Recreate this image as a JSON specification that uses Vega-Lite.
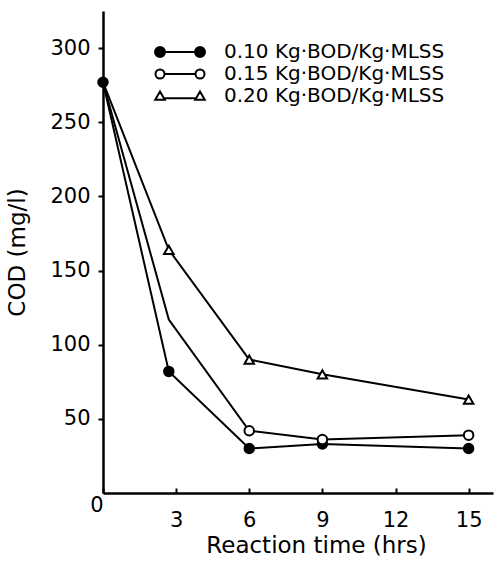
{
  "$schema": "https://vega.github.io/schema/vega-lite/v6.json",
  "width": 390,
  "height": 482,
  "autosize": "none",
  "padding": {"left": 103, "top": 11, "right": 1, "bottom": 73},
  "background": "white",
  "config": {
    "font": "DejaVu Sans",
    "view": {"stroke": null},
    "axis": {"grid": false, "domainColor": "black", "tickColor": "black", "labelColor": "black", "titleColor": "black"}
  },
  "data": {
    "values": [
      {"series": "0.10 Kg·BOD/Kg·MLSS", "time": 0, "cod": 277},
      {"series": "0.10 Kg·BOD/Kg·MLSS", "time": 2.7, "cod": 82},
      {"series": "0.10 Kg·BOD/Kg·MLSS", "time": 6, "cod": 30},
      {"series": "0.10 Kg·BOD/Kg·MLSS", "time": 9, "cod": 33},
      {"series": "0.10 Kg·BOD/Kg·MLSS", "time": 15, "cod": 30},
      {"series": "0.15 Kg·BOD/Kg·MLSS", "time": 0, "cod": 277},
      {"series": "0.15 Kg·BOD/Kg·MLSS", "time": 2.7, "cod": 117},
      {"series": "0.15 Kg·BOD/Kg·MLSS", "time": 6, "cod": 42},
      {"series": "0.15 Kg·BOD/Kg·MLSS", "time": 9, "cod": 36},
      {"series": "0.15 Kg·BOD/Kg·MLSS", "time": 15, "cod": 39},
      {"series": "0.20 Kg·BOD/Kg·MLSS", "time": 0, "cod": 277},
      {"series": "0.20 Kg·BOD/Kg·MLSS", "time": 2.7, "cod": 164},
      {"series": "0.20 Kg·BOD/Kg·MLSS", "time": 6, "cod": 90},
      {"series": "0.20 Kg·BOD/Kg·MLSS", "time": 9, "cod": 80},
      {"series": "0.20 Kg·BOD/Kg·MLSS", "time": 15, "cod": 63}
    ]
  },
  "encoding": {
    "x": {
      "field": "time", "type": "quantitative",
      "scale": {"domain": [0, 16], "nice": false, "zero": false},
      "axis": {
        "values": [0, 3, 6, 9, 12, 15],
        "title": "Reaction time (hrs)",
        "titleFontSize": 23, "titleFontWeight": "normal", "titlePadding": 4, "titleX": 213,
        "labelFontSize": 21,
        "labelPadding": {"condition": {"test": "datum.value === 0", "value": 6}, "value": 21},
        "labelAlign": {"condition": {"test": "datum.value === 0", "value": "right"}, "value": "center"},
        "tickSize": -5, "tickWidth": 2, "domainWidth": 2.5
      }
    },
    "y": {
      "field": "cod", "type": "quantitative",
      "scale": {"domain": [0, 325], "nice": false},
      "axis": {
        "values": [50, 100, 150, 200, 250, 300],
        "title": "COD (mg/l)",
        "titleFontSize": 23, "titleFontWeight": "normal", "titlePadding": 20,
        "labelFontSize": 21, "labelPadding": 8,
        "tickSize": 5, "tickWidth": 2, "domainWidth": 2.5
      }
    }
  },
  "layer": [
    {
      "mark": {"type": "line", "color": "black", "strokeWidth": 2},
      "encoding": {"detail": {"field": "series"}}
    },
    {
      "transform": [
        {"filter": "(datum.time > 0 || indexof(datum.series, '0.10') === 0) && !(datum.time === 2.7 && indexof(datum.series, '0.15') === 0)"}
      ],
      "mark": {"type": "point", "filled": false, "stroke": "black", "strokeWidth": 2, "opacity": 1},
      "encoding": {
        "shape": {
          "field": "series", "type": "nominal",
          "scale": {"domain": ["0.10 Kg·BOD/Kg·MLSS", "0.15 Kg·BOD/Kg·MLSS", "0.20 Kg·BOD/Kg·MLSS"], "range": ["circle", "circle", "triangle-up"]},
          "legend": null
        },
        "fill": {
          "field": "series", "type": "nominal",
          "scale": {"domain": ["0.10 Kg·BOD/Kg·MLSS", "0.15 Kg·BOD/Kg·MLSS", "0.20 Kg·BOD/Kg·MLSS"], "range": ["black", "white", "white"]},
          "legend": null
        },
        "size": {"value": 90}
      }
    },
    {
      "mark": {"type": "point", "filled": false, "stroke": "black", "strokeWidth": 2, "opacity": 0},
      "encoding": {
        "shape": {
          "field": "series", "type": "nominal",
          "scale": {
            "domain": ["0.10 Kg·BOD/Kg·MLSS", "0.15 Kg·BOD/Kg·MLSS", "0.20 Kg·BOD/Kg·MLSS"],
            "range": [
              "M-5,0a1,1 0 1,0 2,0a1,1 0 1,0 -2,0ZM-4.6,0a0.6,0.6 0 1,0 1.2,0a0.6,0.6 0 1,0 -1.2,0ZM-4.25,0a0.25,0.25 0 1,0 0.5,0a0.25,0.25 0 1,0 -0.5,0ZM-3,0L3,0M3,0a1,1 0 1,0 2,0a1,1 0 1,0 -2,0ZM3.4,0a0.6,0.6 0 1,0 1.2,0a0.6,0.6 0 1,0 -1.2,0ZM3.75,0a0.25,0.25 0 1,0 0.5,0a0.25,0.25 0 1,0 -0.5,0Z",
              "M-4.9,0a0.9,0.9 0 1,0 1.8,0a0.9,0.9 0 1,0 -1.8,0ZM-3.1,0L3.1,0M3.1,0a0.9,0.9 0 1,0 1.8,0a0.9,0.9 0 1,0 -1.8,0Z",
              "M-4.95,0.75L-3.05,0.75L-4,-0.9ZM-3.05,0.45L3.05,0.45M3.05,0.75L4.95,0.75L4,-0.9Z"
            ]
          },
          "legend": {
            "title": null,
            "orient": "none",
            "legendX": 67,
            "legendY": 31,
            "padding": 0,
            "symbolSize": 100,
            "symbolOpacity": 1,
            "symbolStrokeColor": "black",
            "symbolStrokeWidth": 2,
            "symbolFillColor": "white",
            "labelFontSize": 20,
            "labelColor": "black",
            "labelLimit": 0,
            "labelOffset": 34,
            "rowPadding": 2
          }
        }
      }
    }
  ],
  "resolve": {"scale": {"shape": "independent"}, "legend": {"shape": "independent"}}
}
